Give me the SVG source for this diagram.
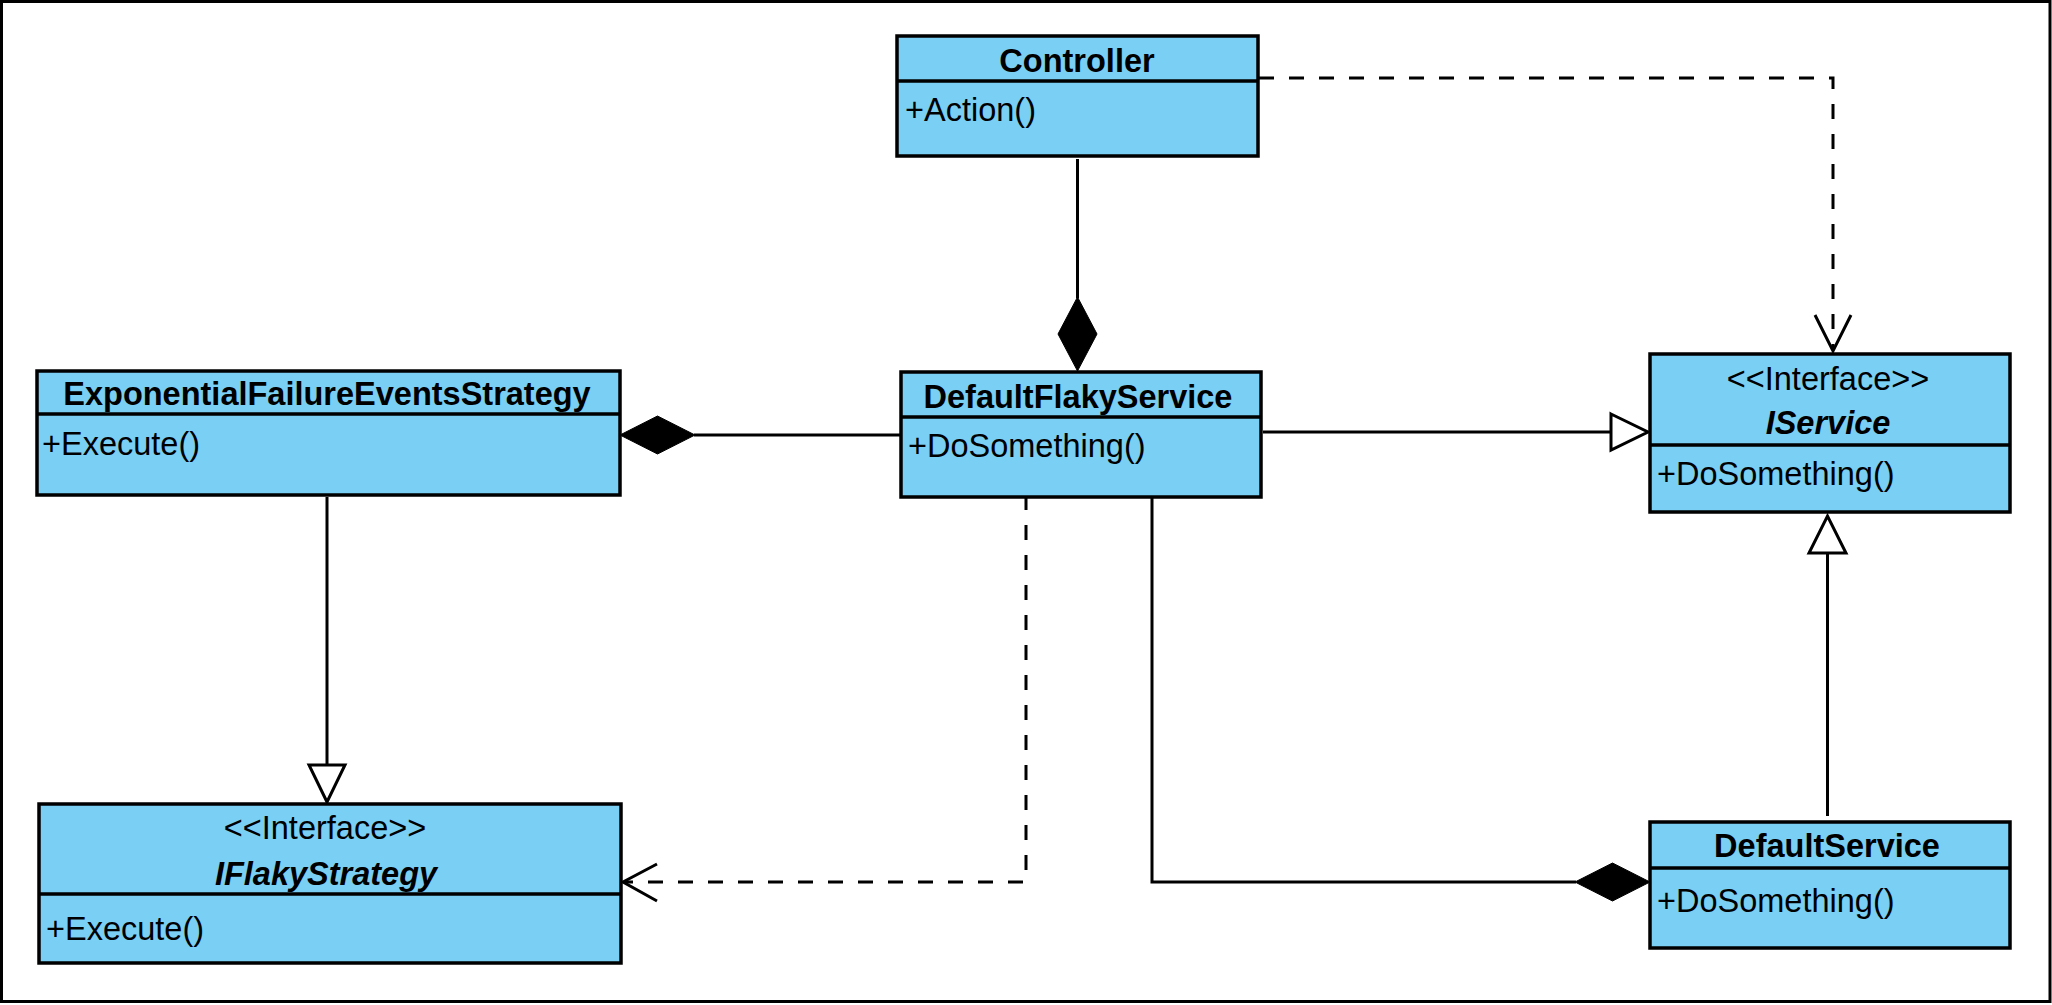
<svg xmlns="http://www.w3.org/2000/svg" width="2052" height="1005" viewBox="0 0 2052 1005">
<defs>
<style>
.box{fill:#7ACFF4;stroke:#000;stroke-width:3.5}
.div{stroke:#000;stroke-width:3.5}
.t{font-family:"Liberation Sans",Arial,sans-serif;font-size:32.5px;fill:#000}
.b{font-weight:bold;text-anchor:middle}
.bi{font-weight:bold;font-style:italic;text-anchor:middle}
.st{text-anchor:middle}
.ln{fill:none;stroke:#000;stroke-width:3}
.dash{fill:none;stroke:#000;stroke-width:3;stroke-dasharray:15 15}
.dia{fill:#000;stroke:#000;stroke-width:1}
.tri{fill:#fff;stroke:#000;stroke-width:3}
.arr{fill:none;stroke:#000;stroke-width:3}
</style>
</defs>
<rect x="1.5" y="1.5" width="2048.5" height="1000" fill="#fff" stroke="#000" stroke-width="3"/>

<g id="connectors">
  <!-- Controller composition DefaultFlakyService -->
  <line class="ln" x1="1077.5" y1="159" x2="1077.5" y2="298"/>
  <polygon class="dia" points="1077.5,297 1097,334 1077.5,371 1058,334"/>
  <!-- EFES composition (diamond at EFES) from DFS -->
  <line class="ln" x1="694" y1="435" x2="900" y2="435"/>
  <polygon class="dia" points="620,435 657.5,416 695,435 657.5,454"/>
  <!-- DFS generalization IService -->
  <line class="ln" x1="1263" y1="432" x2="1612" y2="432"/>
  <polygon class="tri" points="1611,414 1648,432 1611,450"/>
  <!-- Controller dependency IService -->
  <path class="dash" d="M1259 78 H1833 V350"/>
  <polyline class="arr" points="1815,315 1833,351 1851,315"/>
  <!-- EFES generalization IFlakyStrategy -->
  <line class="ln" x1="327" y1="497" x2="327" y2="765"/>
  <polygon class="tri" points="309,765 345,765 327,802"/>
  <!-- DFS dependency IFlakyStrategy -->
  <path class="dash" d="M1026 495 V882 H624"/>
  <polyline class="arr" points="657,864 623,882 657,901"/>
  <!-- DFS composition DefaultService -->
  <path class="ln" d="M1152 497 V882 H1576"/>
  <polygon class="dia" points="1575,882 1612.5,863 1650,882 1612.5,901"/>
  <!-- DefaultService generalization IService -->
  <line class="ln" x1="1827.5" y1="816" x2="1827.5" y2="553"/>
  <polygon class="tri" points="1809,553 1846,553 1827.5,516"/>
</g>

<g id="controller">
  <rect class="box" x="897" y="36" width="361" height="120"/>
  <line class="div" x1="897" y1="81" x2="1258" y2="81"/>
  <text class="t b" x="1077" y="72">Controller</text>
  <text class="t" x="905" y="121">+Action()</text>
</g>

<g id="efes">
  <rect class="box" x="37" y="371" width="583" height="124"/>
  <line class="div" x1="37" y1="414" x2="620" y2="414"/>
  <text class="t b" x="327" y="405">ExponentialFailureEventsStrategy</text>
  <text class="t" x="42" y="455">+Execute()</text>
</g>

<g id="defaultflakyservice">
  <rect class="box" x="901" y="372" width="360" height="125"/>
  <line class="div" x1="901" y1="417" x2="1261" y2="417"/>
  <text class="t b" x="1078" y="408">DefaultFlakyService</text>
  <text class="t" x="908" y="457">+DoSomething()</text>
</g>

<g id="iservice">
  <rect class="box" x="1650" y="354" width="360" height="158"/>
  <line class="div" x1="1650" y1="445" x2="2010" y2="445"/>
  <text class="t st" x="1828" y="390">&lt;&lt;Interface&gt;&gt;</text>
  <text class="t bi" x="1828" y="434">IService</text>
  <text class="t" x="1657" y="485">+DoSomething()</text>
</g>

<g id="iflakystrategy">
  <rect class="box" x="39" y="804" width="582" height="159"/>
  <line class="div" x1="39" y1="894" x2="621" y2="894"/>
  <text class="t st" x="325" y="839">&lt;&lt;Interface&gt;&gt;</text>
  <text class="t bi" x="326" y="885">IFlakyStrategy</text>
  <text class="t" x="46" y="940">+Execute()</text>
</g>

<g id="defaultservice">
  <rect class="box" x="1650" y="822" width="360" height="126"/>
  <line class="div" x1="1650" y1="868" x2="2010" y2="868"/>
  <text class="t b" x="1827" y="857">DefaultService</text>
  <text class="t" x="1657" y="912">+DoSomething()</text>
</g>
</svg>
